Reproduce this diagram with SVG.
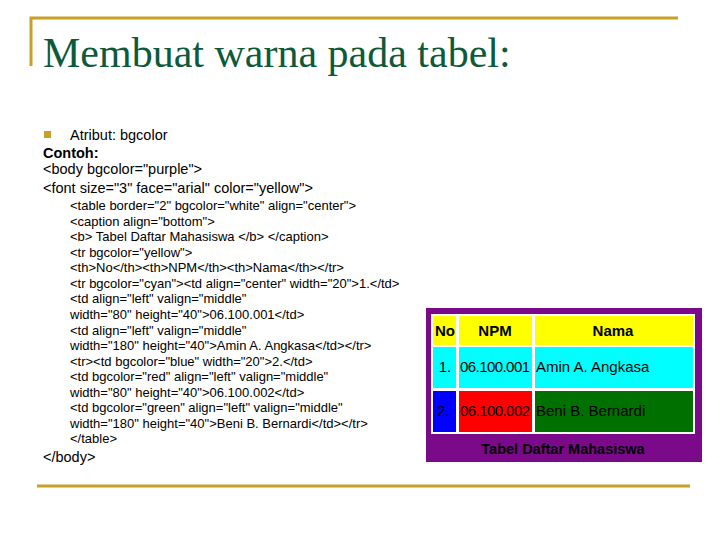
<svg xmlns="http://www.w3.org/2000/svg" width="720" height="540" viewBox="0 0 720 540">
<style>
.t{font-family:"Liberation Sans",Arial,sans-serif;font-size:14.5px;fill:#000}
.c{font-family:"Liberation Sans",Arial,sans-serif;font-size:13px;fill:#000}
.h{font-family:"Liberation Sans",Arial,sans-serif;font-size:15px;font-weight:bold;fill:#000}
.d{font-family:"Liberation Sans",Arial,sans-serif;font-size:15px}
</style>
<rect width="720" height="540" fill="#fff"/>
<g id="frame" fill="none" stroke="#c8a028" stroke-width="3">
<polyline points="31,66 31,18 678,18"/>
<line x1="37" y1="486" x2="690" y2="486"/>
</g>
<text x="43" y="67" font-family="Liberation Serif,serif" font-size="42" fill="#0c5a3a">Membuat warna pada tabel:</text>
<rect x="44" y="131" width="7" height="7" fill="#c8a028"/>
<text class="t" x="70" y="140">Atribut: bgcolor</text>
<text class="t" x="43" y="158" font-weight="bold">Contoh:</text>
<text class="t" x="43" y="174">&lt;body bgcolor="purple"&gt;</text>
<text class="t" x="43" y="193">&lt;font size="3" face="arial" color="yellow"&gt;</text>
<g id="code">
<text class="c" x="70" y="210">&lt;table border="2" bgcolor="white" align="center"&gt;</text>
<text class="c" x="70" y="226">&lt;caption align="bottom"&gt;</text>
<text class="c" x="70" y="241">&lt;b&gt; Tabel Daftar Mahasiswa &lt;/b&gt; &lt;/caption&gt;</text>
<text class="c" x="70" y="257">&lt;tr bgcolor="yellow"&gt;</text>
<text class="c" x="70" y="272">&lt;th&gt;No&lt;/th&gt;&lt;th&gt;NPM&lt;/th&gt;&lt;th&gt;Nama&lt;/th&gt;&lt;/tr&gt;</text>
<text class="c" x="70" y="288">&lt;tr bgcolor="cyan"&gt;&lt;td align="center" width="20"&gt;1.&lt;/td&gt;</text>
<text class="c" x="70" y="303">&lt;td align="left" valign="middle"</text>
<text class="c" x="70" y="319">width="80" height="40"&gt;06.100.001&lt;/td&gt;</text>
<text class="c" x="70" y="335">&lt;td align="left" valign="middle"</text>
<text class="c" x="70" y="350">width="180" height="40"&gt;Amin A. Angkasa&lt;/td&gt;&lt;/tr&gt;</text>
<text class="c" x="70" y="366">&lt;tr&gt;&lt;td bgcolor="blue" width="20"&gt;2.&lt;/td&gt;</text>
<text class="c" x="70" y="381">&lt;td bgcolor="red" align="left" valign="middle"</text>
<text class="c" x="70" y="397">width="80" height="40"&gt;06.100.002&lt;/td&gt;</text>
<text class="c" x="70" y="412">&lt;td bgcolor="green" align="left" valign="middle"</text>
<text class="c" x="70" y="428">width="180" height="40"&gt;Beni B. Bernardi&lt;/td&gt;&lt;/tr&gt;</text>
<text class="c" x="70" y="443">&lt;/table&gt;</text>
</g>
<text class="t" x="43" y="462">&lt;/body&gt;</text>
<g id="table">
<rect x="426" y="308" width="276" height="154" fill="#7a0a8a"/>
<rect x="431" y="314" width="264" height="120" fill="#fff"/>
<rect x="433" y="316" width="23" height="29" fill="#ffff00"/>
<rect x="459" y="316" width="73" height="29" fill="#ffff00"/>
<rect x="535" y="316" width="158" height="29" fill="#ffff00"/>
<rect x="433" y="347" width="23" height="41" fill="#00ffff"/>
<rect x="459" y="347" width="73" height="41" fill="#00ffff"/>
<rect x="535" y="347" width="158" height="41" fill="#00ffff"/>
<rect x="433" y="391" width="23" height="41" fill="#0000ff"/>
<rect x="459" y="391" width="73" height="41" fill="#ff0000"/>
<rect x="535" y="391" width="158" height="41" fill="#007000"/>
<text class="h" x="445" y="336" text-anchor="middle">No</text>
<text class="h" x="495" y="336" text-anchor="middle">NPM</text>
<text class="h" x="613" y="336" text-anchor="middle">Nama</text>
<text class="d" x="445" y="372" text-anchor="middle" fill="#000">1.</text>
<text class="d" x="460" y="372" textLength="70">06.100.001</text>
<text class="d" x="536" y="372">Amin A. Angkasa</text>
<text class="d" x="437" y="416" fill="#000">2.</text>
<text class="d" x="460" y="416" textLength="70">06.100.002</text>
<text class="d" x="536" y="416">Beni B. Bernardi</text>
<text class="t" x="563" y="454" text-anchor="middle" font-weight="bold" font-size="13.5">Tabel Daftar Mahasiswa</text>
</g>
</svg>
